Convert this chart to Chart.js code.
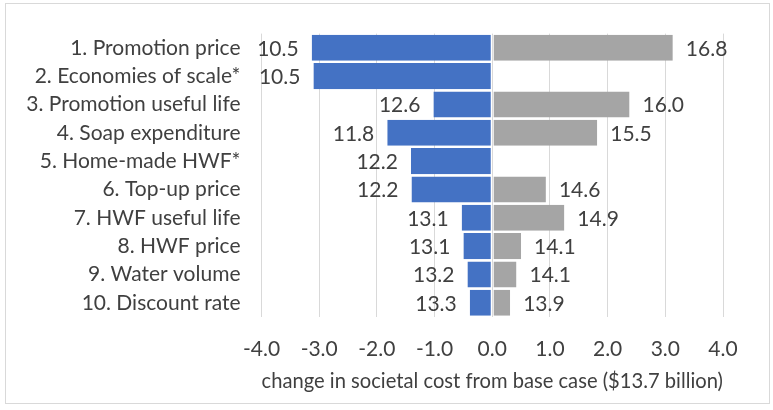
<!DOCTYPE html>
<html>
<head>
<meta charset="utf-8">
<script src="https://cdn.jsdelivr.net/npm/chart.js@4"></script>
<style>
  html, body { margin: 0; padding: 0; background: #fff; }
  #wrap { width: 773px; height: 410px; position: relative; }
</style>
</head>
<body>
<div id="wrap"><canvas id="tornado" width="773" height="410"></canvas></div>
<script>
const categories = [
  '1. Promotion price',
  '2. Economies of scale*',
  '3. Promotion useful life',
  '4. Soap expenditure',
  '5. Home-made HWF*',
  '6. Top-up price',
  '7. HWF useful life',
  '8. HWF price',
  '9. Water volume',
  '10. Discount rate'
];
// change from base case
const lowChange = [-3.13, -3.10, -1.02, -1.82, -1.41, -1.40, -0.53, -0.50, -0.43, -0.39];
const highChange = [3.13, null, 2.38, 1.82, null, 0.93, 1.25, 0.50, 0.42, 0.31];
// printed societal cost values ($ billion)
const lowValues = [10.5, 10.5, 12.6, 11.8, 12.2, 12.2, 13.1, 13.1, 13.2, 13.3];
const highValues = [16.8, null, 16.0, 15.5, null, 14.6, 14.9, 14.1, 14.1, 13.9];
const xTicks = [-4, -3, -2, -1, 0, 1, 2, 3, 4];
const xTitle = 'change in societal cost from base case ($13.7 billion)';

const FONT = 'Lato';
const SIZE = 21;
const TEXT = '#404040';

const frame = {
  id: 'frame',
  beforeDraw(chart) {
    const ctx = chart.ctx;
    ctx.save();
    ctx.strokeStyle = '#d9d9d9';
    ctx.lineWidth = 1;
    ctx.strokeRect(5.5, 3.5, 764, 400);
    ctx.restore();
  }
};

const valueLabels = {
  id: 'valueLabels',
  afterDatasetsDraw(chart) {
    const ctx = chart.ctx;
    ctx.save();
    ctx.font = SIZE + 'px ' + FONT;
    ctx.fillStyle = TEXT;
    ctx.textBaseline = 'middle';
    const sets = [lowValues, highValues];
    sets.forEach((vals, di) => {
      const meta = chart.getDatasetMeta(di);
      meta.data.forEach((bar, i) => {
        if (vals[i] == null) return;
        const txt = vals[i].toFixed(1);
        if (di === 0) {
          ctx.textAlign = 'right';
          ctx.fillText(txt, bar.x - 13, bar.y + 1);
        } else {
          ctx.textAlign = 'left';
          ctx.fillText(txt, bar.x + 13, bar.y + 1);
        }
      });
    });
    ctx.restore();
  }
};

new Chart(document.getElementById('tornado'), {
  type: 'bar',
  data: {
    labels: categories,
    datasets: [
      {
        label: 'Low',
        data: lowChange,
        backgroundColor: '#4472C4',
        borderColor: '#ffffff',
        borderWidth: { top: 0, bottom: 0, left: 0, right: 1 },
        borderSkipped: false,
        categoryPercentage: 0.92,
        barPercentage: 1
      },
      {
        label: 'High',
        data: highChange,
        backgroundColor: '#A5A5A5',
        borderColor: '#ffffff',
        borderWidth: { top: 0, bottom: 0, left: 1, right: 0 },
        borderSkipped: false,
        categoryPercentage: 0.92,
        barPercentage: 1
      }
    ]
  },
  options: {
    indexAxis: 'y',
    responsive: false,
    animation: false,
    layout: { padding: { top: 28, right: 50, bottom: 15, left: 0 } },
    plugins: {
      legend: { display: false },
      tooltip: { enabled: false }
    },
    scales: {
      x: {
        stacked: true,
        min: -4,
        max: 4,
        afterBuildTicks(scale) {
          scale.ticks = xTicks.map(v => ({ value: v }));
        },
        afterFit(scale) { scale.height = 78; },
        grid: { color: '#d9d9d9', lineWidth: 1, drawTicks: false },
        border: { display: false },
        ticks: {
          padding: 20,
          color: TEXT,
          font: { family: FONT, size: SIZE },
          callback: v => Number(v).toFixed(1)
        },
        title: {
          display: true,
          text: xTitle,
          color: TEXT,
          font: { family: FONT, size: SIZE },
          padding: { top: 0, bottom: 1 }
        }
      },
      y: {
        stacked: true,
        afterFit(scale) { scale.width = 261.5; },
        grid: { display: false, drawTicks: false },
        border: { display: false },
        ticks: {
          padding: 21,
          color: TEXT,
          font: { family: FONT, size: SIZE }
        }
      }
    }
  },
  plugins: [frame, valueLabels]
});
</script>
</body>
</html>
